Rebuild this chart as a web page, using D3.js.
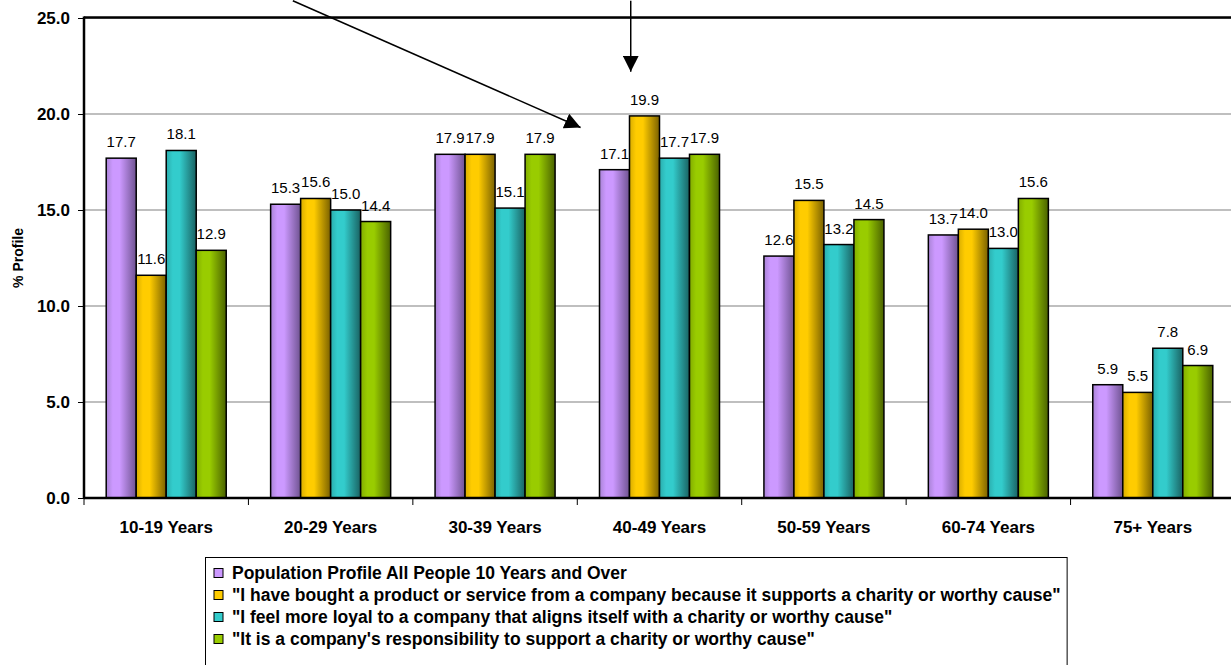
<!DOCTYPE html>
<html>
<head>
<meta charset="utf-8">
<script src="https://cdn.jsdelivr.net/npm/d3@7"></script>
<style>
  html, body { margin: 0; padding: 0; background: #fff; }
  svg { display: block; font-family: Arial, "Liberation Sans", sans-serif; }
</style>
</head>
<body>
<svg id="chart" width="1231" height="665"></svg>
<script>
// Age groups on the x axis
const categories = ["10-19 Years", "20-29 Years", "30-39 Years", "40-49 Years", "50-59 Years", "60-74 Years", "75+ Years"];

// Series names (legend text)
const seriesNames = [
  "Population Profile All People 10 Years and Over",
  "\"I have bought a product or service from a company because it supports a charity or worthy cause\"",
  "\"I feel more loyal to a company that aligns itself with a charity or worthy cause\"",
  "\"It is a company's responsibility to support a charity or worthy cause\""
];

// % profile per age group, one array per series
const population     = [17.7, 15.3, 17.9, 17.1, 12.6, 13.7, 5.9];
const boughtProduct  = [11.6, 15.6, 17.9, 19.9, 15.5, 14.0, 5.5];
const moreLoyal      = [18.1, 15.0, 15.1, 17.7, 13.2, 13.0, 7.8];
const responsibility = [12.9, 14.4, 17.9, 17.9, 14.5, 15.6, 6.9];

// Y axis ticks
const yTicks = [0, 5, 10, 15, 20, 25];

// Call-out arrows, in data terms: category + fraction across its band, and a value
const arrows = [
  { from: ["20-29 Years", 0.27, 25.9], to: ["40-49 Years", 0.02, 19.3] },
  { from: ["40-49 Years", 0.325, 25.9], to: ["40-49 Years", 0.325, 22.2] }
];

const seriesValues = [population, boughtProduct, moreLoyal, responsibility];
const colors = [
  { light: "#cc99ff", edge: "#a983d6", dark: "#6f5391" },
  { light: "#ffcc00", edge: "#d9ad00", dark: "#7a6100" },
  { light: "#33cccc", edge: "#2badad", dark: "#1a6262" },
  { light: "#99cc00", edge: "#82ad00", dark: "#4a6200" }
];

const svg = d3.select("#chart");
const margin = { left: 84, top: 18, bottom: 498, right: 1235 };

const x = d3.scaleBand().domain(categories).range([margin.left, margin.right]).paddingInner(0).paddingOuter(0);
const inner = d3.scaleBand().domain(d3.range(seriesNames.length)).range([0, x.bandwidth()]).paddingOuter(0.74).paddingInner(0);
const y = d3.scaleLinear().domain([0, 25]).range([margin.bottom, margin.top]);

// Cylinder-like horizontal shading for the bars
const defs = svg.append("defs");
colors.forEach((c, i) => {
  const g = defs.append("linearGradient").attr("id", "grad" + i)
    .attr("x1", "0%").attr("x2", "100%").attr("y1", "0%").attr("y2", "0%");
  g.append("stop").attr("offset", "0%").attr("stop-color", c.edge);
  g.append("stop").attr("offset", "22%").attr("stop-color", c.light);
  g.append("stop").attr("offset", "45%").attr("stop-color", c.light);
  g.append("stop").attr("offset", "100%").attr("stop-color", c.dark);
});
defs.append("marker").attr("id", "arrowHead")
  .attr("viewBox", "0 0 10 10").attr("refX", 10).attr("refY", 5)
  .attr("markerWidth", 16).attr("markerHeight", 16).attr("markerUnits", "userSpaceOnUse")
  .attr("orient", "auto")
  .append("path").attr("d", "M0,0 L10,5 L0,10 Z").attr("fill", "#000");

// Gridlines
svg.append("g").selectAll("line").data(yTicks.filter(t => t > 0)).join("line")
  .attr("x1", margin.left).attr("x2", 1231)
  .attr("y1", d => y(d)).attr("y2", d => y(d))
  .attr("stroke", "#808080").attr("stroke-width", 1.2);

// Plot area top border
svg.append("line").attr("x1", margin.left).attr("x2", 1231)
  .attr("y1", y(25) - 0.5).attr("y2", y(25) - 0.5)
  .attr("stroke", "#000").attr("stroke-width", 2.5);

// Y axis
const yAxis = d3.axisLeft(y).tickValues(yTicks).tickFormat(d3.format(".1f")).tickSize(6).tickPadding(8);
const yg = svg.append("g").attr("transform", `translate(${margin.left},0)`).call(yAxis);
yg.select(".domain").remove();
yg.selectAll(".tick line").attr("stroke", "#000").attr("stroke-width", 1);
yg.selectAll(".tick text").attr("font-size", 17).attr("font-weight", "bold").attr("fill", "#000")
  .attr("font-family", 'Arial, "Liberation Sans", sans-serif');

// Bars
const groups = svg.append("g").selectAll("g").data(categories).join("g")
  .attr("transform", d => `translate(${x(d)},0)`);
groups.selectAll("rect")
  .data((d, ci) => seriesValues.map((vals, si) => ({ si, v: vals[ci] })))
  .join("rect")
  .attr("x", d => inner(d.si))
  .attr("width", inner.bandwidth())
  .attr("y", d => y(d.v))
  .attr("height", d => y(0) - y(d.v))
  .attr("fill", d => `url(#grad${d.si})`)
  .attr("stroke", "#000").attr("stroke-width", 1.5);

// Value labels
groups.selectAll("text")
  .data((d, ci) => seriesValues.map((vals, si) => ({ si, v: vals[ci] })))
  .join("text")
  .attr("x", d => inner(d.si) + inner.bandwidth() / 2)
  .attr("y", d => y(d.v) - 11)
  .attr("text-anchor", "middle")
  .attr("font-size", 15)
  .attr("fill", "#000")
  .text(d => d3.format(".1f")(d.v));

// Left axis line and baseline
svg.append("line").attr("x1", margin.left).attr("x2", margin.left)
  .attr("y1", y(25) - 1.5).attr("y2", y(0) + 1)
  .attr("stroke", "#000").attr("stroke-width", 2.5);
svg.append("line").attr("x1", margin.left).attr("x2", 1231)
  .attr("y1", y(0)).attr("y2", y(0))
  .attr("stroke", "#000").attr("stroke-width", 2.5);

// X axis ticks at band edges and category labels
const edges = categories.map(c => x(c)).concat([x.range()[1]]);
svg.append("g").selectAll("line").data(edges).join("line")
  .attr("x1", d => d).attr("x2", d => d)
  .attr("y1", y(0)).attr("y2", y(0) + 7)
  .attr("stroke", "#000").attr("stroke-width", 1);
svg.append("g").selectAll("text").data(categories).join("text")
  .attr("x", d => x(d) + x.bandwidth() / 2)
  .attr("y", 533)
  .attr("text-anchor", "middle")
  .attr("font-size", 17).attr("font-weight", "bold")
  .text(d => d);

// Y axis title
svg.append("text")
  .attr("transform", `translate(23,${(y(0) + y(25)) / 2}) rotate(-90)`)
  .attr("text-anchor", "middle")
  .attr("font-size", 14).attr("font-weight", "bold")
  .text("% Profile");

// Call-out arrows
const pt = ([c, f, v]) => [x(c) + f * x.bandwidth(), y(v)];
svg.append("g").selectAll("line").data(arrows).join("line")
  .attr("x1", d => pt(d.from)[0]).attr("y1", d => pt(d.from)[1])
  .attr("x2", d => pt(d.to)[0]).attr("y2", d => pt(d.to)[1])
  .attr("stroke", "#000").attr("stroke-width", 1.5)
  .attr("marker-end", "url(#arrowHead)");

// Legend
const legend = svg.append("g").attr("transform", "translate(205,557)");
const box = legend.append("rect").attr("x", 0.5).attr("y", 0.5).attr("height", 130)
  .attr("fill", "#fff").attr("stroke", "#000").attr("stroke-width", 1);
const items = legend.selectAll("g.item").data(seriesNames).join("g").attr("class", "item")
  .attr("transform", (d, i) => `translate(0,${16 + i * 22})`);
items.append("rect").attr("x", 9).attr("y", -4.5).attr("width", 9).attr("height", 9)
  .attr("fill", (d, i) => colors[i].light).attr("stroke", "#000").attr("stroke-width", 1);
const labels = items.append("text").attr("x", 27).attr("y", 6)
  .attr("font-size", 17.5).attr("font-weight", "bold")
  .text(d => d);
const longest = d3.max(labels.nodes(), n => n.getComputedTextLength());
box.attr("width", 27 + longest + 6);
</script>
</body>
</html>
